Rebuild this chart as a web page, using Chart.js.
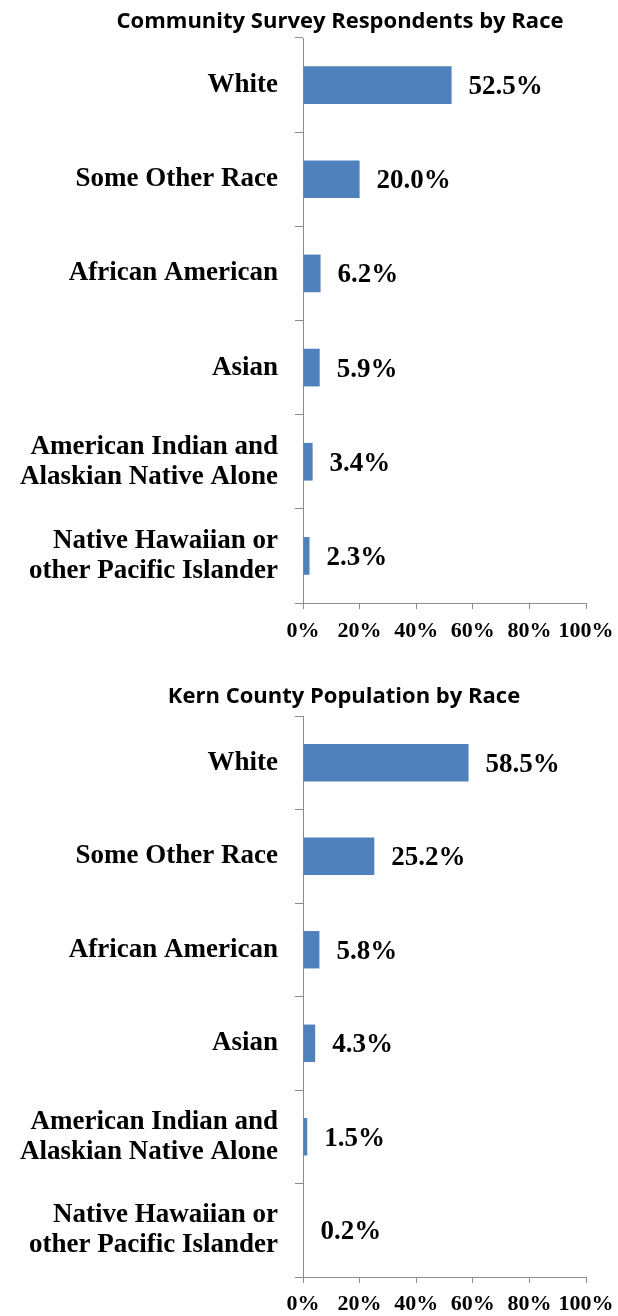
<!DOCTYPE html>
<html>
<head>
<meta charset="utf-8">
<script src="https://cdn.jsdelivr.net/npm/chart.js@4.4.0/dist/chart.umd.min.js"></script>
<style>
  body { margin: 0; background: #fff; width: 618px; height: 1316px; overflow: hidden; }
  .panel { position: relative; width: 618px; }
  .panel canvas { display: block; }
  .title {
    position: absolute;
    font-family: "Open Sans", sans-serif;
    font-weight: 700;
    font-size: 22px;
    line-height: 28px;
    color: #000;
    white-space: nowrap;
    transform: translateX(-50%);
  }
</style>
</head>
<body>
<div class="panel" style="height:650px">
  <div class="title" style="left:340px; top:5px">Community Survey Respondents by Race</div>
  <canvas id="surveyChart" width="618" height="650"></canvas>
</div>
<div class="panel" style="height:666px">
  <div class="title" style="left:344px; top:30px">Kern County Population by Race</div>
  <canvas id="kernChart" width="618" height="666"></canvas>
</div>

<script>
// ---- data ----
const races = [
  "White",
  "Some Other Race",
  "African American",
  "Asian",
  ["American Indian and", "Alaskian Native Alone"],
  ["Native Hawaiian or", "other Pacific Islander"]
];
const surveyPct = [52.5, 20.0, 6.2, 5.9, 3.4, 2.3];
const kernPct = [58.5, 25.2, 5.8, 4.3, 1.5, 0.2];
const pctTicks = [0, 20, 40, 60, 80, 100];

const BAR_BLUE = "#4f81bd";
const AXIS_GREY = "#8c8c8c";
const SERIF = "'Liberation Serif', 'Times New Roman', serif";

// percentage text right of each bar
const barValueLabels = {
  id: "barValueLabels",
  afterDatasetsDraw(chart) {
    const ctx = chart.ctx;
    const meta = chart.getDatasetMeta(0);
    const values = chart.data.datasets[0].data;
    ctx.save();
    ctx.font = "bold 27px " + SERIF;
    ctx.fillStyle = "#000";
    ctx.textAlign = "left";
    ctx.textBaseline = "middle";
    meta.data.forEach((bar, i) => {
      ctx.fillText(values[i].toFixed(1) + "%", bar.x + 17, bar.y + 2);
    });
    ctx.restore();
  }
};

function makeChart(canvasId, values, topPad, xAxisHeight, xLabelPad) {
  return new Chart(document.getElementById(canvasId), {
    type: "bar",
    data: {
      labels: races,
      datasets: [{
        data: values,
        backgroundColor: BAR_BLUE,
        borderWidth: 0,
        barPercentage: 0.4,
        categoryPercentage: 1
      }]
    },
    options: {
      indexAxis: "y",
      responsive: false,
      animation: false,
      layout: { padding: { top: topPad, right: 32, left: 0, bottom: 0 } },
      plugins: {
        legend: { display: false },
        tooltip: { enabled: false }
      },
      scales: {
        y: {
          type: "category",
          offset: true,
          afterFit: s => {
            // fixed label column, no extra room for the first/last label
            s.width = 303;
            s.paddingTop = 0;
            s.paddingBottom = 0;
          },
          grid: {
            offset: true,
            drawOnChartArea: false,
            tickLength: 8,
            color: AXIS_GREY
          },
          border: { color: AXIS_GREY, width: 1 },
          ticks: {
            autoSkip: false,
            color: "#000",
            padding: 17,
            font: { family: SERIF, weight: "bold", size: 27, lineHeight: 1.1 }
          }
        },
        x: {
          min: pctTicks[0],
          max: pctTicks[pctTicks.length - 1],
          afterFit: s => {
            s.height = xAxisHeight;
            s.paddingLeft = 0;
            s.paddingRight = 0;
          },
          afterBuildTicks: s => { s.ticks = pctTicks.map(v => ({ value: v })); },
          grid: {
            drawOnChartArea: false,
            tickLength: 6,
            color: AXIS_GREY
          },
          border: { color: AXIS_GREY, width: 1 },
          ticks: {
            autoSkip: false,
            color: "#000",
            padding: xLabelPad,
            maxRotation: 0,
            callback: v => v + "%",
            font: { family: SERIF, weight: "bold", size: 22 }
          }
        }
      }
    },
    plugins: [barValueLabels]
  });
}

makeChart("surveyChart", surveyPct, 38, 47, 9);
makeChart("kernChart", kernPct, 66, 39, 8);
</script>
</body>
</html>
